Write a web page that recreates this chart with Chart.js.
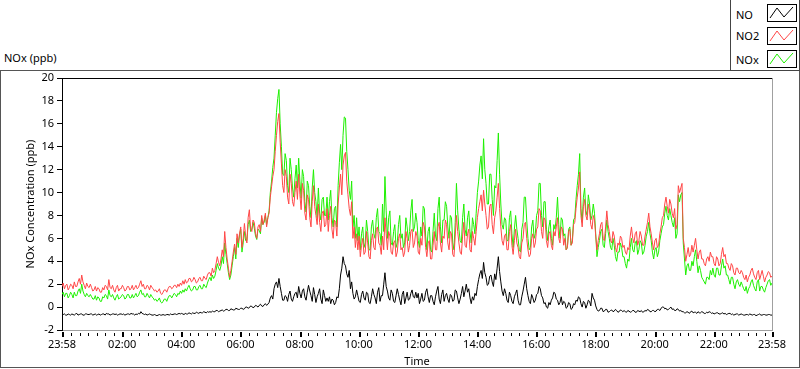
<!DOCTYPE html>
<html>
<head>
<meta charset="utf-8">
<script src="https://cdn.jsdelivr.net/npm/chart.js@4"></script>
<style>
  html, body { margin:0; padding:0; background:#fff; }
  body { width:800px; height:369px; position:relative; overflow:hidden; font-family:'Noto Sans','DejaVu Sans',sans-serif; }
  #frame { position:absolute; left:0; top:70px; width:798px; height:296px; border:1px solid #555; }
  #title { position:absolute; left:4px; top:51px; font-size:11px; line-height:13px; color:#000; white-space:nowrap; }
  #chart { position:absolute; left:0; top:0; }
  #legend { position:absolute; left:730px; top:0; width:68px; height:70px; border:1px solid #444; border-top:none; background:#fff; }
  .item { position:absolute; left:5px; font-size:11px; line-height:13px; color:#000; }
  .sw { position:absolute; left:36px; width:28px; height:16px; border:1px solid #000; background:#fff; }
  .sw svg { display:block; }
</style>
</head>
<body>
<div id="frame"></div>
<div id="title">NOx (ppb)</div>
<canvas id="chart" width="800" height="369"></canvas>
<div id="legend">
  <div class="item" style="top:8px">NO</div>
  <div class="sw" style="top:4px"><svg width="28" height="16"><polyline points="2,13 9,3 16,12 25,2" fill="none" stroke="#000" stroke-width="1"/></svg></div>
  <div class="item" style="top:29px">NO2</div>
  <div class="sw" style="top:27px"><svg width="28" height="16"><polyline points="2,13 9,3 16,12 25,2" fill="none" stroke="#ff4646" stroke-width="1"/></svg></div>
  <div class="item" style="top:53px">NOx</div>
  <div class="sw" style="top:50px"><svg width="28" height="16"><polyline points="2,13 9,3 16,12 25,2" fill="none" stroke="#1ef000" stroke-width="1"/></svg></div>
</div>
<script>
// ---- data: samples every 2.5 minutes from 23:58 to 23:58 next day (one row = one hour) ----
const stepMinutes = 2.5;
const seriesNames = ['NO', 'NO2', 'NOx'];

const noValues = [
  -0.7,-0.65,-0.6,-0.7,-0.7,-0.6,-0.65,-0.7,-0.6,-0.65,-0.7,-0.6,-0.55,-0.7,-0.65,-0.6,-0.6,-0.7,-0.7,-0.6,-0.6,-0.65,-0.65,-0.6,
  -0.6,-0.7,-0.65,-0.6,-0.7,-0.65,-0.6,-0.7,-0.65,-0.6,-0.6,-0.7,-0.55,-0.6,-0.6,-0.7,-0.65,-0.6,-0.6,-0.65,-0.6,-0.7,-0.65,-0.6,
  -0.6,-0.65,-0.6,-0.7,-0.65,-0.6,-0.6,-0.65,-0.55,-0.6,-0.6,-0.7,-0.6,-0.65,-0.55,-0.6,-0.4,-0.55,-0.6,-0.65,-0.6,-0.7,-0.65,-0.6,
  -0.65,-0.7,-0.7,-0.65,-0.7,-0.75,-0.7,-0.65,-0.7,-0.7,-0.65,-0.7,-0.7,-0.65,-0.65,-0.7,-0.6,-0.65,-0.65,-0.6,-0.6,-0.65,-0.6,-0.55,
  -0.6,-0.55,-0.6,-0.65,-0.55,-0.6,-0.6,-0.5,-0.55,-0.6,-0.5,-0.55,-0.55,-0.45,-0.5,-0.55,-0.45,-0.5,-0.5,-0.4,-0.45,-0.5,-0.4,-0.45,
  -0.4,-0.45,-0.35,-0.4,-0.4,-0.3,-0.3,-0.4,-0.35,-0.3,-0.25,-0.35,-0.3,-0.2,-0.2,-0.3,-0.3,-0.15,-0.2,-0.25,-0.25,-0.1,-0.15,-0.2,
  -0.2,-0.1,-0.1,-0.2,-0.15,0.0,0.0,-0.1,-0.05,0.1,0.05,-0.05,0.0,0.15,0.1,0.0,0.15,0.25,0.1,0.05,0.2,0.3,0.15,0.25,
  0.4,0.8,1.0,0.7,1.6,2.0,2.2,1.7,2.5,1.8,1.2,0.6,0.6,1.0,0.9,0.5,1.1,1.4,0.7,0.5,0.9,1.2,1.3,0.8,
  1.8,1.2,0.8,1.4,1.6,0.9,0.6,1.3,1.9,1.4,1.0,0.5,1.7,1.1,0.4,0.9,1.2,1.6,0.7,0.3,1.5,1.0,0.5,0.8,
  0.5,0.9,0.3,0.7,0.6,0.2,0.4,0.9,0.8,1.6,2.8,3.4,4.4,3.8,3.6,2.9,2.6,3.2,1.6,2.2,1.2,0.7,0.9,1.5,
  1.0,0.5,0.4,1.1,1.4,0.8,0.6,1.3,1.2,0.4,0.3,0.9,1.6,1.1,0.8,0.3,1.3,1.7,0.5,1.0,1.0,2.0,3.0,1.8,
  1.4,0.8,0.6,1.5,1.2,0.5,0.4,1.0,1.6,1.1,0.6,0.2,1.1,1.4,0.3,0.8,1.3,0.6,0.7,1.2,1.5,0.9,0.8,1.3,
  0.8,1.2,0.3,0.7,1.2,0.5,0.6,1.3,1.6,0.9,0.4,1.0,1.0,0.5,0.2,0.9,1.4,1.8,0.7,0.3,1.1,1.5,0.5,1.0,
  1.2,0.7,0.4,1.1,1.0,0.5,0.6,1.5,1.4,0.8,0.3,0.7,1.2,1.8,0.9,1.4,2.0,1.3,1.6,0.8,0.3,0.9,0.6,1.2,
  1.0,1.8,2.4,2.9,3.2,2.5,3.9,3.0,2.6,1.9,2.0,2.7,2.8,2.2,1.8,2.9,2.4,3.4,4.4,3.1,2.2,1.4,1.0,1.6,
  1.2,0.6,0.4,1.3,1.0,0.5,0.3,0.9,1.2,1.5,0.6,0.2,0.2,0.9,1.4,2.0,2.6,1.6,1.0,0.5,0.3,1.1,0.8,0.4,
  0.6,1.1,1.2,1.8,1.6,1.0,0.8,0.3,0.4,0.0,-0.1,0.4,0.2,0.6,0.8,1.3,1.2,0.7,0.6,0.2,0.4,0.9,0.2,0.5,
  0.4,-0.1,0.0,0.4,0.3,-0.2,-0.1,0.3,0.2,0.6,0.5,0.9,0.8,0.3,0.0,0.5,0.4,-0.1,0.2,0.6,0.5,0.1,1.2,0.8,
  0.6,0.1,-0.2,-0.35,-0.3,-0.1,-0.1,-0.4,-0.35,-0.2,-0.2,-0.45,-0.4,-0.3,-0.25,-0.4,-0.35,-0.2,-0.3,-0.45,-0.4,-0.25,-0.3,-0.4,
  -0.3,-0.4,-0.45,-0.3,-0.35,-0.45,-0.4,-0.3,-0.3,-0.45,-0.45,-0.3,-0.35,-0.4,-0.3,-0.45,-0.4,-0.3,-0.35,-0.2,-0.25,-0.4,-0.4,-0.3,
  -0.3,-0.4,-0.35,-0.2,-0.2,-0.3,-0.1,0.0,0.0,-0.15,-0.1,-0.25,-0.2,-0.1,0.0,-0.2,-0.15,-0.3,-0.3,-0.15,-0.2,-0.35,-0.3,-0.4,
  -0.4,-0.5,-0.5,-0.4,-0.45,-0.55,-0.4,-0.35,-0.5,-0.45,-0.45,-0.55,-0.4,-0.5,-0.5,-0.4,-0.45,-0.55,-0.55,-0.45,-0.5,-0.4,-0.45,-0.55,
  -0.5,-0.6,-0.55,-0.5,-0.5,-0.6,-0.6,-0.55,-0.5,-0.6,-0.55,-0.65,-0.6,-0.55,-0.55,-0.65,-0.6,-0.7,-0.65,-0.6,-0.6,-0.7,-0.65,-0.6,
  -0.65,-0.7,-0.7,-0.65,-0.65,-0.7,-0.6,-0.65,-0.7,-0.65,-0.65,-0.75,-0.7,-0.65,-0.6,-0.7,-0.7,-0.65,-0.65,-0.7,-0.7,-0.65,-0.65,-0.7,-0.7
];

const no2Values = [
  1.8,2.1,1.6,1.9,2.0,1.5,1.7,2.0,1.9,1.6,2.2,1.8,1.8,2.2,2.5,2.0,2.8,2.2,1.9,1.6,2.1,1.8,1.7,2.0,
  1.7,1.4,1.5,1.8,1.4,1.7,1.6,1.3,1.3,1.7,1.5,1.9,1.8,1.5,2.4,1.7,1.6,1.9,1.5,1.3,1.7,1.9,1.4,1.6,
  1.6,1.9,1.7,1.4,1.5,1.8,1.8,1.5,1.6,1.9,1.5,1.7,1.9,1.6,1.7,2.0,2.3,1.8,2.0,1.6,1.6,1.9,1.8,1.5,
  1.9,1.7,1.6,1.4,1.5,1.3,1.4,1.6,1.2,1.1,1.3,1.5,1.5,1.3,1.6,1.8,1.8,1.6,1.7,1.9,1.9,1.7,2.0,1.8,
  2.1,1.9,2.3,2.0,2.4,2.1,2.2,2.5,2.5,2.2,2.3,2.6,2.4,2.1,2.2,2.5,2.6,2.3,2.3,2.7,2.5,2.4,2.8,3.0,
  3.0,2.7,3.4,3.0,3.2,3.8,4.4,3.9,3.6,4.2,5.0,4.4,6.6,5.2,4.2,3.4,2.6,3.2,4.0,4.8,5.5,4.6,6.4,5.6,
  6.4,7.0,5.2,6.0,7.3,6.2,5.6,7.8,8.5,6.8,6.6,7.6,7.4,6.4,6.0,7.0,7.2,6.6,8.0,7.2,7.6,8.2,7.0,7.8,
  8.2,9.6,10.5,11.4,12.0,13.6,15.0,16.2,16.9,14.4,12.5,10.6,10.0,12.0,11.4,9.6,9.0,11.6,10.8,9.2,8.8,10.0,11.0,9.4,
  11.6,9.8,8.5,10.8,10.2,8.2,7.6,9.8,9.4,7.8,7.0,9.2,10.6,8.8,8.0,7.2,9.0,7.4,6.6,8.2,8.4,7.0,7.2,8.6,
  6.6,8.0,8.8,6.8,6.0,7.6,7.4,6.2,9.0,10.4,11.6,9.8,12.4,13.2,13.5,11.0,9.8,8.6,8.0,9.2,6.0,7.0,5.2,6.4,
  5.0,6.2,4.4,5.4,6.0,4.6,4.8,6.6,5.6,4.4,4.2,5.8,6.4,5.2,5.0,6.8,7.0,5.6,5.4,4.6,6.2,5.0,7.8,6.4,
  5.0,6.6,6.2,4.8,4.6,5.6,5.8,4.4,4.8,6.0,6.4,5.0,5.2,4.4,4.8,6.6,6.0,4.8,5.4,6.6,6.8,5.2,5.6,6.6,
  6.2,4.8,4.6,6.0,5.4,7.4,7.0,5.2,4.4,5.6,5.8,4.2,4.2,5.4,6.6,5.0,5.0,7.0,7.4,5.6,4.8,6.2,6.0,7.6,
  7.2,5.6,5.0,6.6,6.4,4.6,4.4,6.2,8.0,6.6,5.6,4.8,4.6,6.2,7.4,5.4,5.2,6.4,6.8,5.0,4.8,6.6,6.0,5.4,
  6.6,7.8,8.6,9.2,9.8,8.4,10.2,9.0,8.0,6.8,7.0,8.8,9.0,7.2,6.4,7.8,8.4,9.6,10.8,8.6,7.0,5.8,5.4,6.2,
  6.4,5.0,5.0,6.6,7.2,5.4,4.6,5.8,6.8,5.6,5.2,4.4,4.2,5.6,6.0,7.2,7.4,6.0,5.0,4.4,4.6,6.0,6.4,5.2,
  5.6,6.8,7.0,8.6,8.4,6.6,6.0,7.8,7.6,5.8,5.2,6.4,6.6,5.4,5.0,6.6,6.2,7.0,7.8,6.0,5.6,7.0,6.8,5.4,
  6.0,5.0,5.2,6.6,6.8,5.4,5.6,7.2,7.4,8.6,9.6,10.4,11.8,8.0,7.0,8.8,9.4,8.0,7.6,9.0,8.4,7.2,6.8,8.0,
  7.6,6.2,5.0,5.8,6.4,7.2,7.4,6.0,5.8,7.0,8.4,7.2,6.6,5.8,5.6,6.6,6.2,5.2,4.8,5.6,5.4,6.2,6.0,5.2,
  5.4,4.8,4.6,5.2,5.0,6.2,7.0,6.0,5.6,6.4,6.6,5.4,5.8,6.6,6.2,5.4,5.4,6.2,6.8,7.4,8.2,7.0,6.4,5.6,
  5.0,5.8,6.0,5.2,5.4,6.4,7.0,7.8,8.0,9.0,9.6,8.8,8.2,9.4,9.0,8.2,7.8,8.6,6.8,7.2,10.6,10.0,10.4,10.8,
  6.0,5.2,4.0,4.6,5.2,4.4,4.6,5.4,4.8,5.4,6.0,5.0,4.2,4.8,5.0,4.2,4.2,3.8,3.6,4.2,4.4,4.0,4.8,4.4,
  4.4,3.8,3.6,4.4,4.2,3.6,3.8,4.6,5.2,4.4,4.6,3.8,3.8,3.4,3.2,3.8,3.6,3.0,2.8,3.4,3.4,3.0,2.9,3.2,
  3.0,2.6,2.4,2.8,2.2,2.6,2.8,3.2,3.4,2.9,2.6,2.4,3.0,3.2,2.4,2.8,3.2,2.7,2.2,2.6,2.8,3.1,3.0,2.6,2.7
];

const noxValues = [
  1.1,1.3,0.9,1.2,1.2,0.8,1.0,1.3,1.1,0.8,1.3,1.0,1.0,1.4,1.6,1.2,2.0,1.4,1.1,0.9,1.2,1.0,0.9,1.1,
  0.9,0.7,0.7,1.0,0.6,0.9,0.8,0.5,0.5,0.9,0.8,1.1,1.0,0.7,1.5,1.0,0.9,1.1,0.8,0.6,0.9,1.1,0.7,0.8,
  0.9,1.1,1.0,0.7,0.8,1.1,1.1,0.8,0.8,1.1,0.8,1.0,1.2,0.9,1.0,1.3,1.5,1.1,1.2,0.9,0.9,1.2,1.0,0.8,
  1.1,0.9,0.8,0.6,0.7,0.5,0.6,0.8,0.45,0.35,0.5,0.7,0.7,0.5,0.8,1.0,1.0,0.8,1.0,1.2,1.1,0.9,1.2,1.1,
  1.4,1.2,1.5,1.3,1.6,1.4,1.7,1.9,1.6,1.4,1.5,1.8,1.8,1.5,1.5,1.8,1.9,1.6,1.6,2.0,1.8,1.7,2.1,2.4,
  2.6,2.3,2.8,2.5,2.7,3.2,3.8,3.4,3.2,3.6,4.4,3.8,5.6,4.6,3.8,3.0,2.4,2.8,3.6,4.4,5.2,4.2,6.0,5.2,
  6.3,6.8,4.8,5.6,6.6,5.8,5.8,7.2,7.6,6.6,6.8,7.4,6.9,6.2,5.9,6.8,6.7,6.4,7.8,7.2,7.4,8.0,7.2,7.8,
  8.4,10.0,11.0,12.2,13.0,15.0,17.0,18.2,19.0,16.0,14.0,11.6,11.5,13.4,12.8,10.6,10.0,13.0,12.0,10.4,9.6,11.2,12.4,10.4,
  13.0,11.0,9.5,12.0,11.4,9.2,8.3,11.0,10.6,8.8,7.8,10.4,12.0,10.0,9.2,7.8,10.4,8.2,7.6,9.4,9.6,8.0,8.0,9.6,
  7.6,9.2,10.2,7.8,7.0,8.6,8.8,7.0,10.6,12.6,14.2,12.0,15.0,16.6,16.5,13.6,12.0,10.2,9.4,11.0,7.0,8.0,6.0,7.8,
  5.8,7.0,5.0,6.4,7.0,5.2,5.6,7.6,6.6,5.0,5.0,7.0,7.6,6.4,6.0,7.8,8.6,6.6,6.4,5.4,9.0,6.6,11.4,8.4,
  6.0,7.8,8.4,5.6,5.4,6.6,7.2,5.2,5.6,7.2,8.0,6.0,6.4,5.2,5.6,7.8,7.0,5.8,6.6,8.4,9.4,6.6,7.0,8.2,
  7.4,5.8,5.2,7.0,6.2,8.8,8.6,6.2,5.0,6.6,7.0,5.0,4.8,6.6,8.2,6.2,5.8,8.6,9.6,7.0,5.6,7.6,7.6,9.2,
  8.8,7.0,6.0,8.0,7.8,5.6,5.0,7.4,10.8,8.4,6.8,5.8,5.6,7.8,9.0,6.8,6.2,7.8,8.4,6.6,5.6,7.8,7.2,6.4,
  8.2,10.0,11.0,12.4,13.2,11.2,14.7,12.0,10.8,9.0,9.0,11.6,11.6,9.4,8.0,10.6,10.4,12.8,15.2,11.6,9.0,7.2,6.8,7.8,
  7.6,5.8,5.8,7.8,8.4,6.4,5.2,6.8,8.0,6.8,6.0,5.0,4.8,6.8,7.4,9.6,9.6,7.6,6.0,5.0,5.2,7.0,7.6,6.0,
  6.4,8.0,8.4,10.8,10.8,8.0,7.0,9.2,9.2,6.8,5.8,7.0,7.6,6.0,5.4,7.2,6.8,7.8,9.6,7.2,6.0,7.8,7.6,6.2,
  6.4,5.0,5.2,6.8,7.0,5.4,5.8,7.6,7.8,9.4,10.6,11.6,13.4,8.6,7.4,9.6,10.4,8.4,8.0,9.8,9.0,7.6,8.0,9.0,
  8.2,6.4,4.4,5.2,5.8,6.6,6.8,5.4,5.2,6.4,7.6,6.6,6.0,5.2,5.0,6.0,5.4,4.4,4.0,4.8,4.8,5.6,5.2,4.4,
  4.4,3.8,3.4,4.2,4.0,5.2,6.0,5.0,4.8,5.6,5.8,4.6,5.0,5.8,5.6,4.6,4.8,5.4,6.2,6.6,7.4,6.4,5.8,4.8,
  4.2,5.0,5.2,4.4,4.8,5.8,6.4,7.0,7.2,8.2,8.8,8.0,7.6,8.6,8.0,7.4,7.0,7.8,6.0,6.4,9.8,9.2,9.8,10.0,
  5.6,4.2,2.8,3.6,3.8,3.2,3.2,4.0,3.6,4.4,5.0,4.0,3.0,3.6,3.2,2.6,2.4,2.2,2.0,2.6,2.6,2.4,3.2,2.8,
  3.4,2.8,2.6,3.4,3.4,2.8,2.8,3.6,4.2,3.4,3.6,2.8,2.8,2.4,2.0,2.6,2.6,2.0,1.6,2.2,2.4,2.0,1.8,2.2,
  1.9,1.6,1.4,1.8,1.2,1.6,1.8,2.2,2.4,1.9,1.6,1.4,2.2,2.4,1.4,1.8,1.8,1.5,1.3,1.7,2.0,2.3,2.4,1.9,2.1
];

// x tick positions in minutes after 23:58, and their labels
const tickMinutes = [0,122,242,362,482,602,722,842,962,1082,1202,1322,1440];
const tickLabels  = ['23:58','02:00','04:00','06:00','08:00','10:00','12:00','14:00','16:00','18:00','20:00','22:00','23:58'];
const yTicks = [-2,0,2,4,6,8,10,12,14,16,18,20];

// ---- chart ----
const FONT = "'Noto Sans','DejaVu Sans',sans-serif";
Chart.defaults.font.family = FONT;
Chart.defaults.font.size = 11;
Chart.defaults.color = '#000';

const toXY = vals => vals.map((v, i) => ({ x: i * stepMinutes, y: v }));
const colors = ['#000000', '#ff4646', '#1ef000'];
const valueSets = [noValues, no2Values, noxValues];

const framePlugin = {
  id: 'labviewFrame',
  afterDraw(chart) {
    const { ctx, chartArea: a, scales: { x } } = chart;
    ctx.save();
    ctx.fillStyle = '#000';
    ctx.fillRect(Math.round(a.left), Math.round(a.top), Math.round(a.right - a.left) + 1, 1);
    ctx.fillStyle = '#a0a0a0';
    ctx.fillRect(Math.round(a.right), Math.round(a.top), 1, Math.round(a.bottom - a.top) + 1);
    ctx.fillStyle = '#000';
    tickMinutes.forEach(m => {
      const px = Math.round(x.getPixelForValue(m));
      ctx.fillRect(px, Math.round(a.bottom) + 2, 2, 5);
    });
    for (let k = 0; ; k++) {
      const m = 2 + k * 120 / 7;
      if (m > 1440.5) break;
      if (tickMinutes.some(t => Math.abs(t - m) < 4)) continue;
      const px = Math.round(x.getPixelForValue(m));
      ctx.fillRect(px, Math.round(a.bottom) + 3, 1, 3);
    }
    ctx.restore();
  }
};

new Chart(document.getElementById('chart'), {
  type: 'line',
  data: {
    datasets: seriesNames.map((name, i) => ({
      label: name,
      data: toXY(valueSets[i]),
      borderColor: colors[i],
      backgroundColor: colors[i],
      borderWidth: 1,
      pointRadius: 0,
      tension: 0,
      fill: false
    }))
  },
  options: {
    responsive: false,
    animation: false,
    devicePixelRatio: 1,
    layout: { padding: { top: 78, right: 28, left: 0, bottom: 0 } },
    plugins: { legend: { display: false }, tooltip: { enabled: false }, title: { display: false } },
    scales: {
      x: {
        type: 'linear',
        min: 0,
        max: 1440,
        afterBuildTicks: s => { s.ticks = tickMinutes.map(v => ({ value: v })); },
        afterFit: s => { s.height = 39; },
        ticks: {
          autoSkip: false,
          maxRotation: 0,
          padding: 8,
          color: '#000',
          callback: v => { const k = tickMinutes.indexOf(v); return k >= 0 ? tickLabels[k] : ''; }
        },
        grid: { display: true, drawOnChartArea: false, drawTicks: false },
        border: { display: true, color: '#a0a0a0', width: 1 },
        title: { display: true, text: 'Time', color: '#000', font: { size: 11 }, padding: { top: 0, bottom: 1 } }
      },
      y: {
        min: -2,
        max: 20,
        afterBuildTicks: s => { s.ticks = yTicks.map(v => ({ value: v })); },
        afterFit: s => { s.width = 62; },
        ticks: { padding: 3, color: '#000' },
        grid: { display: true, drawOnChartArea: false, drawTicks: true, tickLength: 5, color: '#000', tickColor: '#000' },
        border: { display: true, color: '#000', width: 1 },
        title: { display: true, text: 'NOx Concentration (ppb)', color: '#000', font: { size: 11 }, padding: { top: 24, bottom: 0 } }
      }
    }
  },
  plugins: [framePlugin]
});
</script>
</body>
</html>
